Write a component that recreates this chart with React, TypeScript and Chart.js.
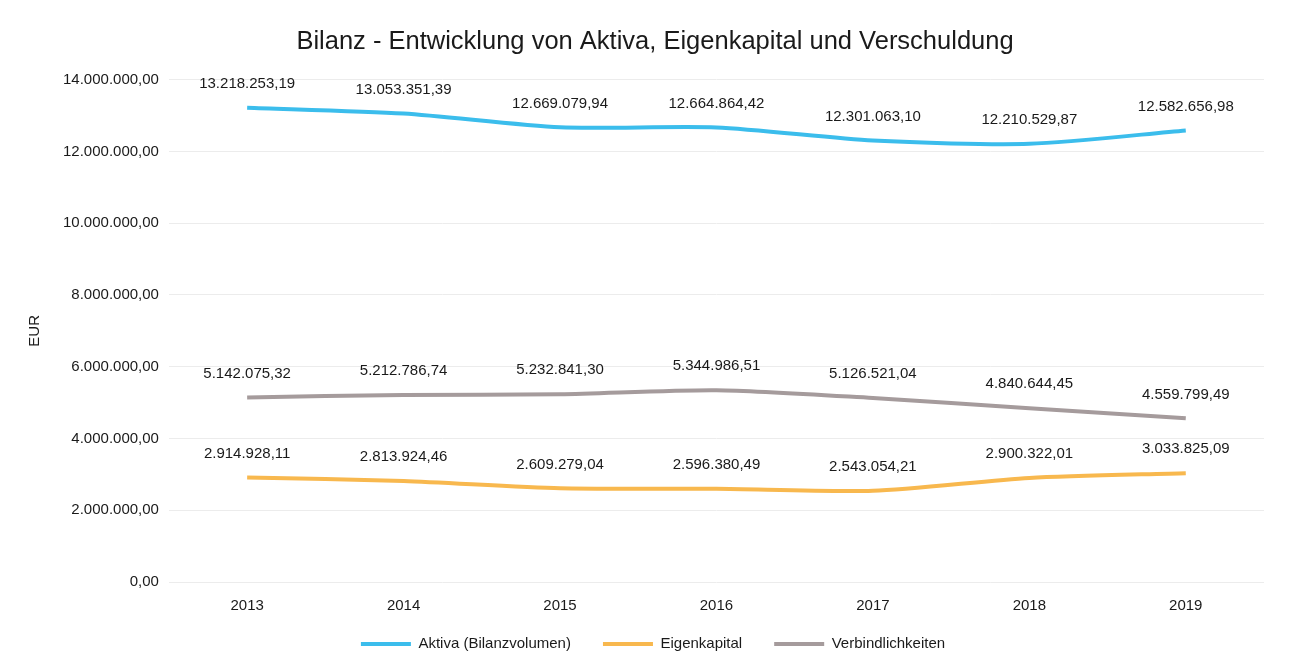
import React, { useEffect, useRef } from "react";
import { Chart, registerables } from "chart.js";

Chart.register(...registerables);

const years = ["2013", "2014", "2015", "2016", "2017", "2018", "2019"];
const aktiva = [13218253.19, 13053351.39, 12669079.94, 12664864.42, 12301063.1, 12210529.87, 12582656.98];
const eigenkapital = [2914928.11, 2813924.46, 2609279.04, 2596380.49, 2543054.21, 2900322.01, 3033825.09];
const verbindlichkeiten = [5142075.32, 5212786.74, 5232841.3, 5344986.51, 5126521.04, 4840644.45, 4559799.49];

const seriesNames = ["Aktiva (Bilanzvolumen)", "Eigenkapital", "Verbindlichkeiten"];
const seriesColors = ["#3bbdec", "#f8b84e", "#a59b9c"];

const FONT = "'Liberation Sans', Arial, Helvetica, sans-serif";
const LEGEND_FONT = 15;
const LEGEND_PAD = 32;

function fmtDE(n: number): string {
  const neg = n < 0;
  const [intPart, dec] = Math.abs(n).toFixed(2).split(".");
  const withDots = intPart.replace(/\B(?=(\d{3})+(?!\d))/g, ".");
  return (neg ? "-" : "") + withDots + "," + dec;
}

const valueLabelPlugin = {
  id: "valueLabels",
  afterDatasetsDraw(chart: any) {
    const ctx = chart.ctx;
    ctx.save();
    ctx.font = `15px ${FONT}`;
    ctx.fillStyle = "#1a1a1a";
    ctx.textAlign = "center";
    ctx.textBaseline = "middle";
    chart.data.datasets.forEach((ds: any, i: number) => {
      const meta = chart.getDatasetMeta(i);
      meta.data.forEach((pt: any, j: number) => {
        ctx.fillText(fmtDE(ds.data[j]), pt.x, pt.y - 24);
      });
    });
    ctx.restore();
  },
};

const boxShiftPlugin = {
  id: "boxShift",
  afterLayout(chart: any) {
    const lg = chart.legend;
    if (lg) {
      const h = lg.bottom - lg.top;
      const newTop = 644 - LEGEND_PAD - LEGEND_FONT / 2;
      lg.top = newTop;
      lg.bottom = newTop + h;
      lg.left += 8;
      lg.right += 8;
    }
    const tb = chart.titleBlock;
    if (tb) {
      tb.left += 10;
      tb.right += 10;
    }
  },
};

export default function App() {
  const canvasRef = useRef<HTMLCanvasElement | null>(null);

  useEffect(() => {
    if (!canvasRef.current) return;
    const values = [aktiva, eigenkapital, verbindlichkeiten];
    const chart = new Chart(canvasRef.current, {
      type: "line",
      data: {
        labels: years,
        datasets: seriesNames.map((name, i) => ({
          label: name,
          data: values[i],
          borderColor: seriesColors[i],
          backgroundColor: seriesColors[i],
          borderWidth: 4,
          pointRadius: 0,
          tension: 0.25,
          fill: false,
        })),
      },
      options: {
        animation: false,
        responsive: false,
        maintainAspectRatio: false,
        layout: { padding: { left: 26, right: 26, top: 0, bottom: -15 } },
        plugins: {
          title: {
            display: true,
            text: "Bilanz - Entwicklung von Aktiva, Eigenkapital und Verschuldung",
            color: "#1a1a1a",
            font: { family: FONT, size: 25.5, weight: "normal" },
            padding: { top: 27, bottom: 22 },
          },
          legend: {
            display: true,
            position: "bottom",
            labels: {
              color: "#1a1a1a",
              font: { family: FONT, size: LEGEND_FONT },
              boxWidth: 50,
              boxHeight: 4,
              padding: LEGEND_PAD,
              generateLabels(chart: any) {
                const items = Chart.defaults.plugins.legend.labels.generateLabels(chart);
                return items.map((it: any) => ({ ...it, lineWidth: 0 }));
              },
            },
          },
          tooltip: { enabled: false },
        },
        scales: {
          x: {
            offset: true,
            grid: { display: false, drawTicks: false },
            border: { display: false },
            ticks: { color: "#1a1a1a", font: { family: FONT, size: 15 }, padding: 15 },
          },
          y: {
            min: 0,
            max: 14000000,
            grid: { color: "#ececec", lineWidth: 1, drawTicks: false },
            border: { display: false },
            ticks: {
              stepSize: 2000000,
              color: "#1a1a1a",
              font: { family: FONT, size: 15 },
              padding: 10,
              callback: (v: any) => fmtDE(Number(v)),
            },
            title: {
              display: true,
              text: "EUR",
              color: "#1a1a1a",
              font: { family: FONT, size: 15 },
              padding: { top: 0, bottom: 9 },
            },
          },
        },
      },
      plugins: [valueLabelPlugin, boxShiftPlugin],
    } as any);
    return () => chart.destroy();
  }, []);

  return (
    <div style={{ position: "absolute", left: 0, top: 0, width: 1290, height: 672, background: "#fff" }}>
      <canvas ref={canvasRef} width={1290} height={672} style={{ width: 1290, height: 672 }} />
    </div>
  );
}
